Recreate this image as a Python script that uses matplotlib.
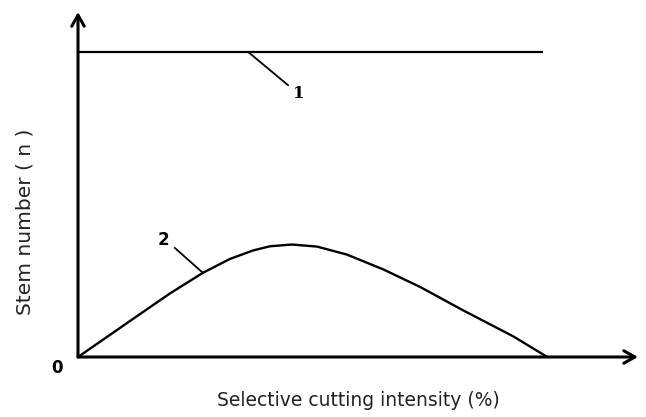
import numpy as np
import matplotlib
matplotlib.use("Agg")
from matplotlib import pyplot as plt

# cutting intensity (%) vs stem number
line1_x = [0, 83]
line1_y = [88.4, 88.4]

curve2_x = [0, 10.5, 16.4, 22.3, 27.1, 31.3, 34.3, 38.2, 42.7, 48.0, 54.5, 61.1, 68.8, 77.7, 83.8]
curve2_y = [0, 11.8, 18.4, 24.4, 28.4, 30.9, 32.1, 32.6, 32.0, 29.7, 25.4, 20.3, 13.5, 6.0, 0]

fig = plt.figure(figsize=(6.46, 4.17), dpi=100)
ax = fig.add_axes([78 / 646, 60 / 417, 560 / 646, 345 / 417])
ax.set_xlim(0, 100)
ax.set_ylim(0, 100)
ax.axis("off")

ax.plot(line1_x, line1_y, color="k", lw=1.6, solid_capstyle="butt")
ax.plot(curve2_x, curve2_y, color="k", lw=1.7, solid_joinstyle="round")

# axes with open arrow heads
arrow = dict(arrowstyle="->,head_length=0.8,head_width=0.45", lw=2.2, color="k",
             shrinkA=0, shrinkB=0)
ax.annotate("", xy=(100, 0), xytext=(0, 0), arrowprops=arrow, annotation_clip=False)
ax.annotate("", xy=(0, 100), xytext=(0, 0), arrowprops=arrow, annotation_clip=False)

# leader lines and curve numbers
ax.plot([30.4, 37.5], [88.4, 78.8], color="k", lw=1.3)
ax.text(39.5, 76.5, "1", fontsize=12, fontweight="bold", family="DejaVu Serif",
        ha="center", va="center")
ax.plot([17.3, 22.3], [31.6, 24.4], color="k", lw=1.3)
ax.text(15.2, 33.8, "2", fontsize=12, fontweight="bold", ha="center", va="center")
ax.text(-3.8, -3.2, "0", fontsize=12, fontweight="bold", ha="center", va="center")

fig.text(358 / 646, 1 - 400 / 417, "Selective cutting intensity (%)", fontsize=13.5,
         color="#222222", ha="center", va="center")
fig.text(25 / 646, 1 - 222 / 417, "Stem number ( n )", fontsize=14.5, rotation=90,
         color="#222222", ha="center", va="center")

plt.savefig("out.png", dpi=100)
